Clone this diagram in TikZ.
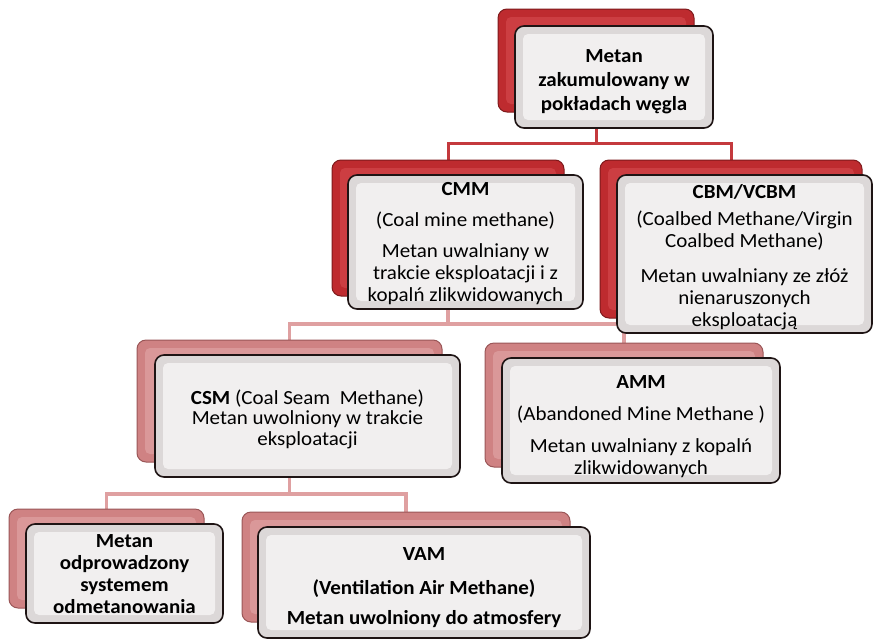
\documentclass[tikz,border=0pt]{standalone}
\usepackage{fontspec}
\setmainfont{Carlito}[FakeStretch=1.05]
\usetikzlibrary{fit}
\definecolor{redA}{HTML}{BE2B2F}
\definecolor{redAin}{HTML}{CC3E42}
\definecolor{redAedge}{HTML}{7E1A1C}
\definecolor{pinkB}{HTML}{CF8283}
\definecolor{pinkBin}{HTML}{DA9899}
\definecolor{pinkBedge}{HTML}{9A5657}
\definecolor{frontout}{HTML}{DCD8D8}
\definecolor{frontin}{HTML}{F1EFEF}
\definecolor{frontedge}{HTML}{1E1414}
\definecolor{lineA}{HTML}{C4393D}
\definecolor{lineB}{HTML}{DFA0A1}
\tikzset{
  bevel/.style={path picture={\fill[#1,rounded corners=5pt]
    ([shift={(8pt,-8pt)}]path picture bounding box.north west) rectangle
    ([shift={(-8pt,8pt)}]path picture bounding box.south east);}},
  backA/.style={draw=redAedge, line width=1pt, fill=redA, rounded corners=9pt, inner sep=0pt, bevel=redAin},
  backB/.style={draw=pinkBedge, line width=1pt, fill=pinkB, rounded corners=9pt, inner sep=0pt, bevel=pinkBin},
  frontbox/.style={draw=frontedge, line width=1.6pt, fill=frontout, rounded corners=9pt, inner sep=0pt, bevel=frontin},
  txt/.style={align=center, font=\fontsize{20}{22}\selectfont, inner sep=0pt, text=black},
  txtb/.style={txt, font=\fontsize{20}{22}\selectfont\bfseries},
  conA/.style={draw=lineA, line width=3pt},
  conB/.style={draw=lineB, line width=3.5pt},
}
\begin{document}
\begin{tikzpicture}[x=1pt,y=-1pt]
\useasboundingbox (0,0) rectangle (874,640);
\path
  coordinate (t1) at (498,9)   coordinate (t2) at (694,112)
  coordinate (c1) at (332,160) coordinate (c2) at (564,296)
  coordinate (v1) at (600,160) coordinate (v2) at (862,318)
  coordinate (s1) at (137,340) coordinate (s2) at (442,462)
  coordinate (a1) at (485,343) coordinate (a2) at (763,467)
  coordinate (o1) at (9,509)   coordinate (o2) at (204,608)
  coordinate (m1) at (242,512) coordinate (m2) at (570,622);
% invisible fit nodes for back boxes to get anchors
\node[inner sep=0pt, fit=(t1)(t2)] (topb) {};
\node[inner sep=0pt, fit=(c1)(c2)] (cmmb) {};
\node[inner sep=0pt, fit=(v1)(v2)] (cbmb) {};
\node[inner sep=0pt, fit=(s1)(s2)] (csmb) {};
\node[inner sep=0pt, fit=(a1)(a2)] (ammb) {};
\node[inner sep=0pt, fit=(o1)(o2)] (odmb) {};
\node[inner sep=0pt, fit=(m1)(m2)] (vamb) {};
% connectors
\path (topb.south) ++(0,31) coordinate (busA);
\path (cmmb.south) ++(0,28) coordinate (busB);
\path (csmb.south) ++(0,32) coordinate (busC);
\draw[conA] (topb.south) -- (busA) -| (cmmb.north);
\draw[conA] (busA) -| (cbmb.north);
\draw[conB] (cmmb.south) -- (busB) -| (csmb.north);
\draw[conB] (busB) -| (ammb.north);
\draw[conB] (csmb.south) -- (busC) -| (odmb.north);
\draw[conB] (busC) -| (vamb.north);
% back boxes drawn
\node[backA, fit=(t1)(t2)] (topbk) {};
\node[backA, fit=(c1)(c2)] (cmmbk) {};
\node[backA, fit=(v1)(v2)] (cbmbk) {};
\node[backB, fit=(s1)(s2)] (csmbk) {};
\node[backB, fit=(a1)(a2)] (ammbk) {};
\node[backB, fit=(o1)(o2)] (odmbk) {};
\node[backB, fit=(m1)(m2)] (vambk) {};
% front boxes
\path
  coordinate (T1) at (515,26)  coordinate (T2) at (713,128)
  coordinate (C1) at (348,175) coordinate (C2) at (583,309)
  coordinate (V1) at (617,175) coordinate (V2) at (872,333)
  coordinate (S1) at (155,355) coordinate (S2) at (460,477)
  coordinate (A1) at (502,358) coordinate (A2) at (780,483)
  coordinate (O1) at (26,524)  coordinate (O2) at (223,623)
  coordinate (M1) at (258,527) coordinate (M2) at (590,638);
\node[frontbox, fit=(T1)(T2)] (top) {};
\node[frontbox, fit=(C1)(C2)] (cmm) {};
\node[frontbox, fit=(V1)(V2)] (cbm) {};
\node[frontbox, fit=(S1)(S2)] (csm) {};
\node[frontbox, fit=(A1)(A2)] (amm) {};
\node[frontbox, fit=(O1)(O2)] (odm) {};
\node[frontbox, fit=(M1)(M2)] (vam) {};
% texts
\node[txtb, font=\fontsize{20}{24}\selectfont\bfseries] (topt) at ([yshift=-5pt]top.center) {Metan\\zakumulowany w\\pokładach węgla};
\node[txt] (cmmt) at ([yshift=-1.5pt]cmm.center) {\textbf{CMM}\\[9pt](Coal mine methane)\\[9pt]Metan uwalniany w\\trakcie eksploatacji i z\\kopalń zlikwidowanych};
\node[txt] (cbmt) at ([yshift=-3pt]cbm.center) {\textbf{CBM/VCBM}\\[5pt](Coalbed Methane/Virgin\\Coalbed Methane)\\[13pt]Metan uwalniany ze złóż\\nienaruszonych\\eksploatacją};
\node[txt, font=\fontsize{20}{20.5}\selectfont] (csmt) at ([yshift=-3pt]csm.center) {\textbf{CSM} (Coal Seam\ \ Methane)\\Metan uwolniony w trakcie\\eksploatacji};
\node[txt] (ammt) at ([yshift=-6pt]amm.center) {\textbf{AMM}\\[10pt](Abandoned Mine Methane )\\[10pt]Metan uwalniany z kopalń\\zlikwidowanych};
\node[txtb] (odmt) at ([yshift=-1pt]odm.center) {Metan\\odprowadzony\\systemem\\odmetanowania};
\node[txtb] (vamt) at ([yshift=-5pt]vam.center) {VAM\\[12pt](Ventilation Air Methane)\\[8pt]Metan uwolniony do atmosfery};
\end{tikzpicture}
\end{document}
